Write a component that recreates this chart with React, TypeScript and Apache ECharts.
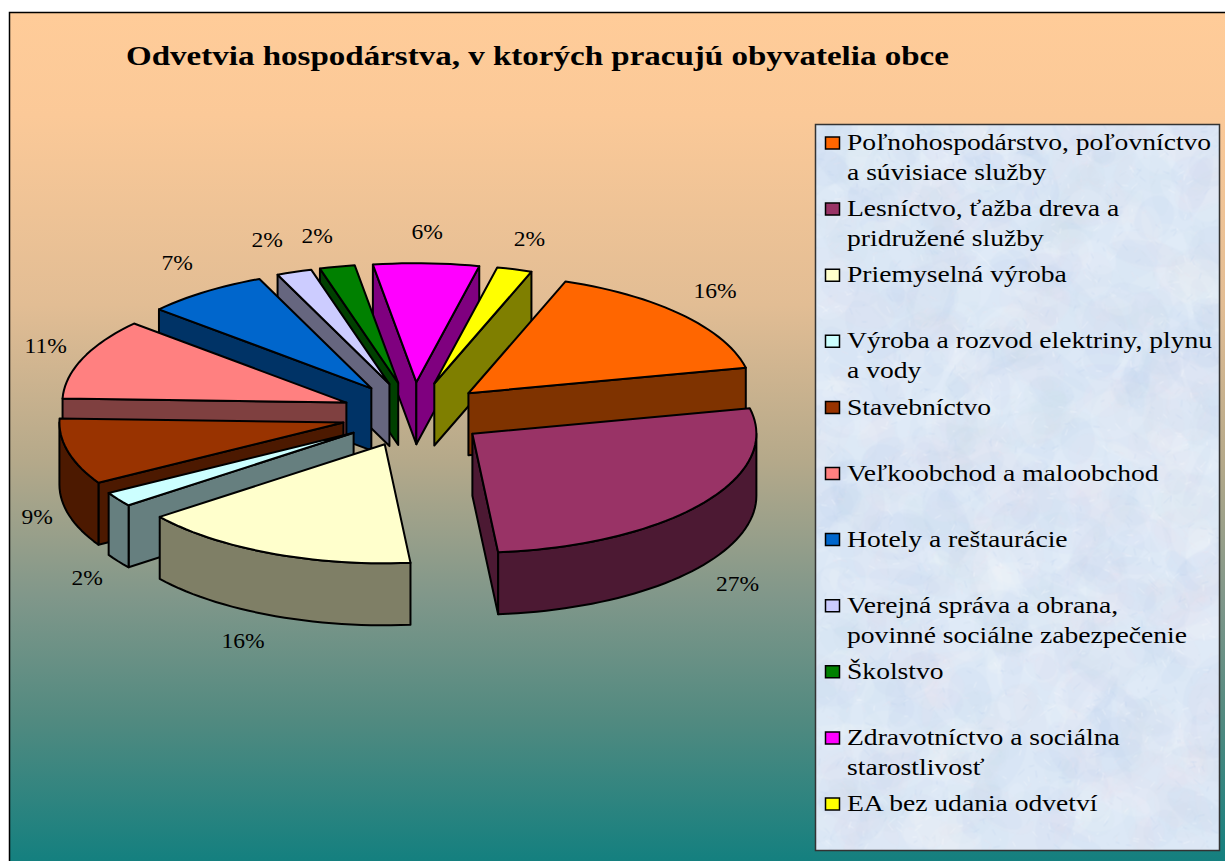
import React, { useEffect, useRef } from "react";
import * as echarts from "echarts";

const titleText = "Odvetvia hospodárstva, v ktorých pracujú obyvatelia obce";
const categories = [
  "Poľnohospodárstvo, poľovníctvo\na súvisiace služby",
  "Lesníctvo, ťažba dreva a\npridružené služby",
  "Priemyselná výroba",
  "Výroba a rozvod elektriny, plynu\na vody",
  "Stavebníctvo",
  "Veľkoobchod a maloobchod",
  "Hotely a reštaurácie",
  "Verejná správa a obrana,\npovinné sociálne zabezpečenie",
  "Školstvo",
  "Zdravotníctvo a sociálna\nstarostlivosť",
  "EA bez udania odvetví",
];
const percents = [16, 27, 16, 2, 9, 11, 7, 2, 2, 6, 2];
const topColors = ["#FF6600", "#993366", "#FFFFCC", "#CCFFFF", "#993300", "#FF8080", "#0066CC", "#CCCCFF", "#008000", "#FF00FF", "#FFFF00"];
const sideColors = ["#7F3300", "#4C1933", "#7F7F66", "#667F7F", "#4C1900", "#7F4040", "#003366", "#66667F", "#004000", "#7F007F", "#7F7F00"];
// painter's order, back to front, by index into the lists above
const paintOrder = [9, 10, 0, 1, 8, 7, 6, 5, 4, 3, 2];
const labelNudges = [[33, -24], [36, 80], [-28, 87], [-31, 78], [-31, 65], [-37, -13], [-28, -29], [-27, -32], [-20, -31], [1, -32], [15, -31]];

const START_DEG = 20;
const CX = 413.8, CY = 414.6, RX = 284, RY = 119, DEPTH = 62, EX = 72.6, EY = 32.4;
const SERIF = '"Liberation Serif", serif';

const total = percents.reduce((a, b) => a + b, 0);
const starts: number[] = [];
percents.reduce((acc, v, i) => { starts[i] = acc; return acc + (v / total) * 360; }, START_DEG);

const rad = (d: number) => (d * Math.PI) / 180;

function renderSlice(params: any, api: any) {
  const i = params.dataIndex;
  const sweep = (api.value(0) / total) * 360;
  const t0 = starts[i], t1 = t0 + sweep, mid = (t0 + t1) / 2;
  const ax = CX + EX * Math.sin(rad(mid));
  const ay = CY - EY * Math.cos(rad(mid));
  const pt = (t: number, dy = 0): number[] => [ax + RX * Math.sin(rad(t)), ay - RY * Math.cos(rad(t)) + dy];
  const arc = (a: number, b: number, dy = 0) => {
    const n = Math.max(2, Math.ceil(Math.abs(b - a) / 2));
    const out: number[][] = [];
    for (let k = 0; k <= n; k++) out.push(pt(a + ((b - a) * k) / n, dy));
    return out;
  };
  const order = paintOrder.indexOf(i);
  const base = (order + 1) * 10;
  const line = { stroke: "#000", lineWidth: 2, lineJoin: "round" };
  const children: any[] = [];
  const wall = (points: number[][], z: number, fill: string) =>
    children.push({ type: "polygon", z2: base + z, shape: { points }, style: { fill, ...line } });
  const side = sideColors[i];
  const apex = [ax, ay], apexLow = [ax, ay + DEPTH];
  if (Math.sin(rad(t0)) < 0) wall([apex, pt(t0), pt(t0, DEPTH), apexLow], 1, side);
  if (Math.sin(rad(t1)) > 0) wall([apex, pt(t1), pt(t1, DEPTH), apexLow], 1, side);
  const f0 = Math.max(t0, 90), f1 = Math.min(t1, 270);
  if (f1 > f0) wall([...arc(f0, f1), ...arc(f1, f0, DEPTH)], 2, side);
  wall([apex, ...arc(t0, t1)], 3, topColors[i]);
  const [mx, my] = pt(mid);
  children.push({
    type: "text",
    z2: 500,
    x: mx + labelNudges[i][0],
    y: my + labelNudges[i][1],
    scaleX: 1.07,
    style: { text: api.value(0) + "%", fill: "#000", font: `22px ${SERIF}`, align: "center", verticalAlign: "middle" },
  });
  return { type: "group", children };
}

function marbleTexture(): string {
  const w = 404, h = 726;
  const c = document.createElement("canvas");
  c.width = w; c.height = h;
  const g = c.getContext("2d")!;
  g.fillStyle = "#DCE8F6";
  g.fillRect(0, 0, w, h);
  let s = 12345;
  const next = () => { s = (s * 16807) % 2147483647; return s / 2147483647; };
  const tints = ["255,255,255", "190,210,238", "236,226,238", "205,222,235"];
  for (let k = 0; k < 900; k++) {
    g.fillStyle = `rgba(${tints[k % 4]},0.10)`;
    g.beginPath();
    g.ellipse(next() * w, next() * h, 8 + next() * 34, 5 + next() * 20, next() * 3, 0, 6.3);
    g.fill();
  }
  for (let k = 0; k < 2200; k++) {
    g.strokeStyle = `rgba(${tints[k % 4]},0.35)`;
    g.lineWidth = 1;
    const x = next() * w, y = next() * h;
    g.beginPath();
    g.moveTo(x, y);
    g.lineTo(x + (next() - 0.5) * 14, y + (next() - 0.5) * 14);
    g.stroke();
  }
  return c.toDataURL("image/png");
}

export default function App() {
  const ref = useRef<HTMLDivElement>(null);
  useEffect(() => {
    document.body.style.margin = "0";
    const chart = echarts.init(ref.current!, null, { renderer: "svg" });
    const legendItems: any[] = [];
    categories.forEach((name, i) => {
      const top = 130 + i * 66.1;
      legendItems.push({
        type: "rect", z: 3, shape: { x: 825.5, y: top + 7, width: 14, height: 12 },
        style: { fill: topColors[i], stroke: "#000", lineWidth: 1.5 },
      });
      legendItems.push({
        type: "text", z: 3, x: 847, y: top - 3, scaleX: 1.2,
        style: { text: name, fill: "#000", font: `23px ${SERIF}`, lineHeight: 30, align: "left", verticalAlign: "top" },
      });
    });
    chart.setOption({
      animation: false,
      graphic: [
        {
          type: "rect", z: 0,
          shape: { x: 9.5, y: 12.5, width: 1225, height: 860 },
          style: {
            stroke: "#000", lineWidth: 1.5,
            fill: {
              type: "linear", x: 0, y: 0, x2: 0, y2: 1,
              colorStops: [
                { offset: 0, color: "#FFCC99" },
                { offset: 0.12, color: "#FBC998" },
                { offset: 0.34, color: "#E2BD94" },
                { offset: 0.52, color: "#B5A98A" },
                { offset: 0.68, color: "#80978A" },
                { offset: 0.82, color: "#528A80" },
                { offset: 1, color: "#0F7F7F" },
              ],
            },
          },
        },
        {
          type: "text", z: 3, x: 126, y: 56, scaleX: 1.18,
          style: { text: titleText, fill: "#000", font: `bold 28px ${SERIF}`, align: "left", verticalAlign: "middle" },
        },
        {
          type: "image", z: 1, x: 815.5, y: 124.5,
          style: { image: marbleTexture(), x: 0, y: 0, width: 404, height: 726 },
        },
        {
          type: "rect", z: 2, shape: { x: 815.5, y: 124.5, width: 404, height: 726 },
          style: { fill: "none", stroke: "#333", lineWidth: 1.5 },
        },
        ...legendItems,
      ],
      series: [
        {
          type: "custom",
          coordinateSystem: "none",
          renderItem: renderSlice,
          silent: true,
          z: 5,
          data: percents.map((v, i) => ({ value: v, name: categories[i] })),
        },
      ],
    });
    return () => chart.dispose();
  }, []);
  return <div ref={ref} style={{ position: "absolute", left: 0, top: 0, width: 1225, height: 861, background: "#fff" }} />;
}
